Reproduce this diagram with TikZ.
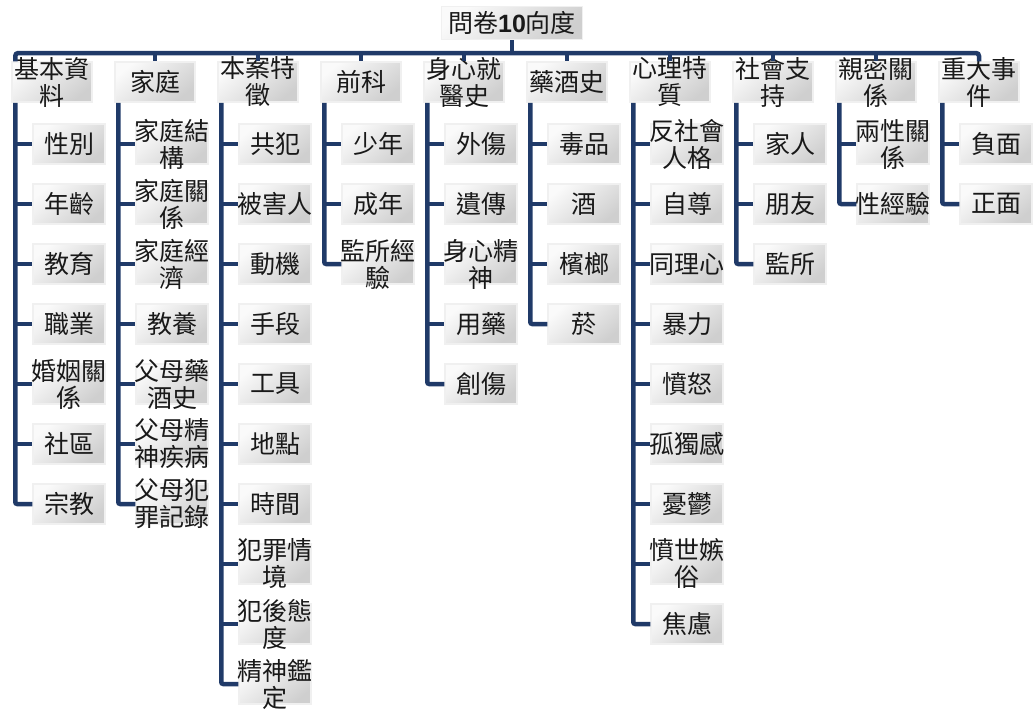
\documentclass[tikz,border=0pt]{standalone}
\usepackage{fontspec}
\setmainfont{Noto Sans CJK TC}
\newfontfamily\latinfont{Liberation Sans}
\definecolor{navy}{HTML}{203A68}
\tikzset{
  link/.style={draw=navy, line width=4.5pt},
  boxtext/.style={inner sep=0pt, align=center, text=black!90,
    font=\fontsize{25}{27}\selectfont},
  plate/.style={draw=gray!12, line width=1.5pt, top color=gray!4,
    bottom color=gray!38, shading angle=40, inner sep=0pt},
  rootbox/.style={plate, minimum width=141pt, minimum height=33pt},
  colbox/.style={plate, minimum width=80pt, minimum height=40pt},
  kidbox/.style={plate, minimum width=72pt, minimum height=40pt}
}
\begin{document}
\begin{tikzpicture}[x=1pt, y=-1pt]
\useasboundingbox (0,0) rectangle (1035,715);
\coordinate (bus) at (0,53);

% root
\node[rootbox, label={[boxtext]center:問卷{\latinfont\bfseries 10}向度}] (root) at (512,23) {};

% the ten columns
\foreach \i/\ttl in {1/{基本資\\料}, 2/家庭, 3/{本案特\\徵}, 4/前科, 5/{身心就\\醫史},
    6/藥酒史, 7/{心理特\\質}, 8/{社會支\\持}, 9/{親密關\\係}, 10/{重大事\\件}}
  \node[colbox, label={[boxtext]center:\ttl}] (c\i) at ({52+103*(\i-1)},82) {};

\draw[link] (root.south) -- (root.south |- bus);
\draw[link, rounded corners=3pt] ([xshift=4pt]c1.north west) |- (c10.north |- bus) -- (c10.north);
\foreach \i in {2,...,9}
  \draw[link] (c\i.north |- bus) -- (c\i.north);

% children of each column
\foreach \i/\n/\kids in {
    1/7/{性別,年齡,教育,職業,{婚姻關\\係},社區,宗教},
    2/7/{{家庭結\\構},{家庭關\\係},{家庭經\\濟},教養,{父母藥\\酒史},{父母精\\神疾病},{父母犯\\罪記錄}},
    3/10/{共犯,被害人,動機,手段,工具,地點,時間,{犯罪情\\境},{犯後態\\度},{精神鑑\\定}},
    4/3/{少年,成年,{監所經\\驗}},
    5/5/{外傷,遺傳,{身心精\\神},用藥,創傷},
    6/4/{毒品,酒,檳榔,菸},
    7/9/{{反社會\\人格},自尊,同理心,暴力,憤怒,孤獨感,憂鬱,{憤世嫉\\俗},焦慮},
    8/3/{家人,朋友,監所},
    9/2/{{兩性關\\係},性經驗},
    10/2/{負面,正面}}{
  \foreach \k [count=\j] in \kids
    \node[kidbox, label={[boxtext]center:\k}] (c\i-\j) at ({52+103*(\i-1)+17},{144+60*(\j-1)}) {};
  \coordinate (b\i) at ([xshift=4pt]c\i.south west);
  \draw[link, rounded corners=2pt] (b\i) |- (c\i-\n.west);
  \pgfmathtruncatemacro\m{\n-1}
  \foreach \j in {1,...,\m}
    \draw[link] (c\i-\j.west -| b\i) -- (c\i-\j.west);
}
\end{tikzpicture}
\end{document}
